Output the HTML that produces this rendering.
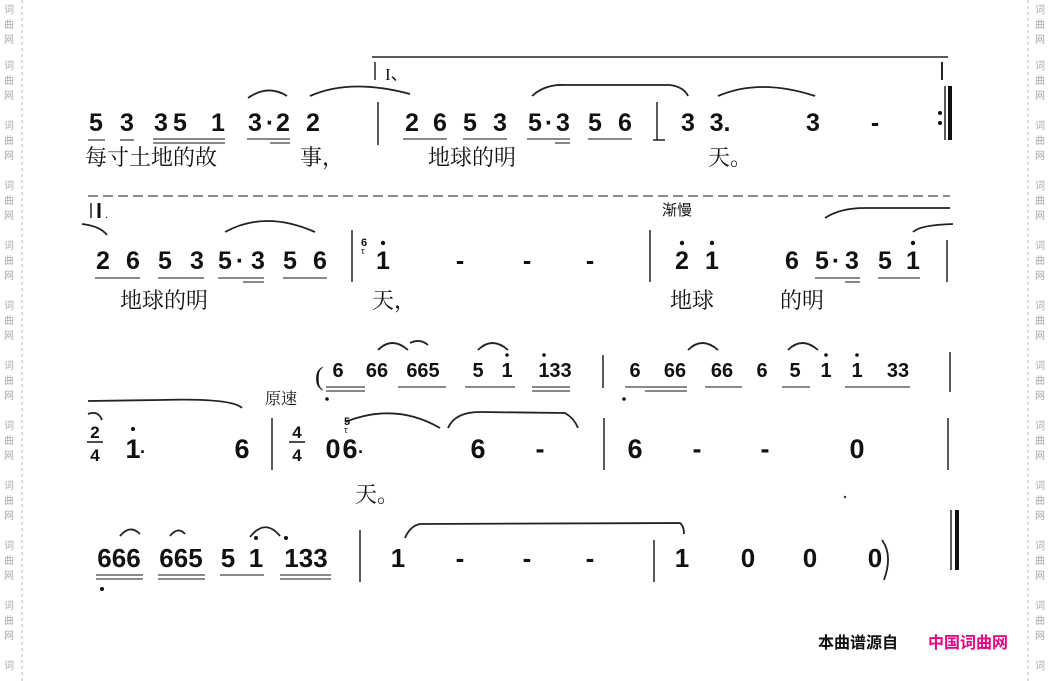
<!DOCTYPE html>
<html><head><meta charset="utf-8"><style>
html,body{margin:0;padding:0;background:#fff;width:1050px;height:681px;overflow:hidden}
svg{display:block}
.n{font-family:"Liberation Sans",sans-serif;font-weight:bold;font-size:25px;fill:#111;text-anchor:middle}
.c{font-family:"Liberation Sans Narrow","Liberation Sans",sans-serif;font-weight:bold;fill:#111;text-anchor:middle}
.l{font-family:"Liberation Serif","Noto Serif CJK SC",serif;font-size:22px;fill:#111}
.w{font-family:"Liberation Sans","Noto Sans CJK SC",sans-serif;font-size:10px;fill:#aaa;text-anchor:middle}
.t{stroke:#222;stroke-width:1.8;fill:none}
.u{stroke:#444;stroke-width:1.3}
.b{stroke:#222;stroke-width:1.5}
</style></head><body>
<svg width="1050" height="681" viewBox="0 0 1050 681" xmlns="http://www.w3.org/2000/svg">
<line x1="22" y1="0" x2="22" y2="681" stroke="#bbb" stroke-dasharray="3,3"/>
<line x1="1028" y1="0" x2="1028" y2="681" stroke="#bbb" stroke-dasharray="3,3"/>
<g id="wm">
<text class="w" x="9" y="13">词</text><text class="w" x="9" y="28">曲</text><text class="w" x="9" y="43">网</text>
<text class="w" x="9" y="69">词</text><text class="w" x="9" y="84">曲</text><text class="w" x="9" y="99">网</text>
<text class="w" x="9" y="129">词</text><text class="w" x="9" y="144">曲</text><text class="w" x="9" y="159">网</text>
<text class="w" x="9" y="189">词</text><text class="w" x="9" y="204">曲</text><text class="w" x="9" y="219">网</text>
<text class="w" x="9" y="249">词</text><text class="w" x="9" y="264">曲</text><text class="w" x="9" y="279">网</text>
<text class="w" x="9" y="309">词</text><text class="w" x="9" y="324">曲</text><text class="w" x="9" y="339">网</text>
<text class="w" x="9" y="369">词</text><text class="w" x="9" y="384">曲</text><text class="w" x="9" y="399">网</text>
<text class="w" x="9" y="429">词</text><text class="w" x="9" y="444">曲</text><text class="w" x="9" y="459">网</text>
<text class="w" x="9" y="489">词</text><text class="w" x="9" y="504">曲</text><text class="w" x="9" y="519">网</text>
<text class="w" x="9" y="549">词</text><text class="w" x="9" y="564">曲</text><text class="w" x="9" y="579">网</text>
<text class="w" x="9" y="609">词</text><text class="w" x="9" y="624">曲</text><text class="w" x="9" y="639">网</text>
<text class="w" x="9" y="669">词</text>
</g>
<use href="#wm" x="1031"/>

<!-- Row 1 -->
<line x1="372" y1="57" x2="948" y2="57" stroke="#222" stroke-width="1.5"/>
<line x1="375" y1="62" x2="375" y2="80" class="b"/>
<text x="385" y="80" font-family="Liberation Serif" font-size="17" fill="#111">I、</text>
<line x1="942" y1="62" x2="942" y2="80" stroke="#222" stroke-width="2"/>
<path class="t" d="M248 98 Q268 84 287 96"/>
<path class="t" d="M310 96 Q350 78 410 94"/>
<path class="t" d="M532 96 Q545 84 565 85 L670 85 Q684 87 688 96"/>
<path class="t" d="M718 96 Q760 78 815 96"/>
<g class="n">
<text x="96" y="131">5</text><text x="127" y="131">3</text><text x="161" y="131">3</text><text x="180" y="131">5</text><text x="218" y="131">1</text><text x="255" y="131">3</text><text x="270" y="131">·</text><text x="283" y="131">2</text><text x="313" y="131">2</text>
<text x="412" y="131">2</text><text x="440" y="131">6</text><text x="470" y="131">5</text><text x="500" y="131">3</text><text x="535" y="131">5</text><text x="549" y="131">·</text><text x="563" y="131">3</text><text x="595" y="131">5</text><text x="625" y="131">6</text>
<text x="688" y="131">3</text><text x="720" y="131">3.</text><text x="813" y="131">3</text><text x="875" y="131">-</text>
</g>
<g class="u">
<line x1="88" y1="140" x2="105" y2="140"/><line x1="120" y1="140" x2="134" y2="140"/>
<line x1="153" y1="139" x2="225" y2="139"/><line x1="153" y1="143" x2="225" y2="143"/>
<line x1="247" y1="139" x2="290" y2="139"/><line x1="270" y1="143" x2="290" y2="143"/>
<line x1="403" y1="139" x2="447" y2="139"/><line x1="463" y1="139" x2="507" y2="139"/>
<line x1="527" y1="139" x2="570" y2="139"/><line x1="555" y1="143" x2="570" y2="143"/>
<line x1="588" y1="139" x2="632" y2="139"/>
</g>
<line x1="378" y1="102" x2="378" y2="145" class="b"/>
<line x1="657" y1="102" x2="657" y2="140" class="b"/><line x1="653" y1="140" x2="665" y2="140" class="b"/>
<circle cx="940" cy="113" r="2" fill="#111"/><circle cx="940" cy="123" r="2" fill="#111"/>
<line x1="945" y1="86" x2="945" y2="140" class="b"/>
<line x1="950" y1="86" x2="950" y2="140" stroke="#111" stroke-width="4"/>
<g class="l">
<text x="85" y="165">每寸土地的故</text><text x="300" y="165">事，</text>
<text x="428" y="165">地球的明</text><text x="708" y="165">天。</text>
</g>
<line x1="88" y1="196" x2="950" y2="196" stroke="#666" stroke-width="1.5" stroke-dasharray="10,5"/>

<!-- Row 2 -->
<line x1="91" y1="203" x2="91" y2="218" class="b"/>
<line x1="99" y1="203" x2="99" y2="218" stroke="#111" stroke-width="3"/>
<text x="105" y="218" font-size="12" fill="#111">.</text>
<text x="662" y="215" font-family="Liberation Sans,Noto Sans CJK SC,sans-serif" font-size="15" fill="#111">渐慢</text>
<path class="t" d="M82 224 Q100 226 107 235"/>
<path class="t" d="M225 232 Q265 210 315 232"/>
<path class="t" d="M825 218 Q840 208 865 208 L950 208"/>
<path class="t" d="M913 232 Q920 225 953 224"/>
<g class="n">
<text x="103" y="269">2</text><text x="133" y="269">6</text><text x="165" y="269">5</text><text x="197" y="269">3</text><text x="225" y="269">5</text><text x="240" y="269">·</text><text x="258" y="269">3</text><text x="290" y="269">5</text><text x="320" y="269">6</text>
<text x="383" y="269">1</text><text x="460" y="269">-</text><text x="527" y="269">-</text><text x="590" y="269">-</text>
<text x="682" y="269">2</text><text x="712" y="269">1</text><text x="792" y="269">6</text><text x="822" y="269">5</text><text x="836" y="269">·</text><text x="852" y="269">3</text><text x="885" y="269">5</text><text x="913" y="269">1</text>
</g>
<g fill="#111"><circle cx="383" cy="243" r="2.2"/><circle cx="682" cy="243" r="2.2"/><circle cx="712" cy="243" r="2.2"/><circle cx="913" cy="243" r="2.2"/></g>
<text x="361" y="246" font-family="Liberation Sans" font-size="11" font-weight="bold" fill="#111">6</text>
<text x="361" y="254" font-family="Liberation Sans" font-size="9" fill="#111">τ</text>
<g class="u">
<line x1="95" y1="278" x2="140" y2="278"/><line x1="158" y1="278" x2="204" y2="278"/>
<line x1="218" y1="278" x2="264" y2="278"/><line x1="243" y1="282" x2="264" y2="282"/>
<line x1="283" y1="278" x2="327" y2="278"/>
<line x1="815" y1="278" x2="860" y2="278"/><line x1="845" y1="282" x2="860" y2="282"/><line x1="878" y1="278" x2="920" y2="278"/>
</g>
<line x1="352" y1="230" x2="352" y2="282" class="b"/>
<line x1="650" y1="230" x2="650" y2="282" class="b"/>
<line x1="947" y1="240" x2="947" y2="282" class="b"/>
<g class="l">
<text x="120" y="308">地球的明</text><text x="372" y="308">天，</text>
<text x="670" y="308">地球</text><text x="780" y="308">的明</text>
</g>

<!-- Row 3 small -->
<path class="t" d="M378 350 Q392 336 408 350"/><path class="t" d="M478 350 Q492 336 508 350"/>
<path class="t" d="M410 343 Q420 338 428 345"/>
<path class="t" d="M688 350 Q702 336 718 350"/><path class="t" d="M788 350 Q802 336 818 350"/>
<text x="315" y="385" font-family="Liberation Serif" font-size="26" fill="#111">(</text>
<g class="c" font-size="20">
<text x="338" y="377">6</text><text x="377" y="377">66</text><text x="423" y="377">665</text><text x="478" y="377">5</text><text x="507" y="377">1</text><text x="555" y="377">133</text>
<text x="635" y="377">6</text><text x="675" y="377">66</text><text x="722" y="377">66</text><text x="762" y="377">6</text><text x="795" y="377">5</text><text x="826" y="377">1</text><text x="857" y="377">1</text><text x="898" y="377">33</text>
</g>
<g fill="#111"><circle cx="507" cy="355" r="1.8"/><circle cx="544" cy="355" r="1.8"/><circle cx="826" cy="355" r="1.8"/><circle cx="857" cy="355" r="1.8"/><circle cx="327" cy="399" r="1.8"/><circle cx="624" cy="399" r="1.8"/></g>
<g class="u">
<line x1="326" y1="387" x2="365" y2="387"/><line x1="326" y1="391" x2="365" y2="391"/>
<line x1="398" y1="387" x2="446" y2="387"/><line x1="465" y1="387" x2="515" y2="387"/><line x1="532" y1="387" x2="570" y2="387"/><line x1="532" y1="391" x2="570" y2="391"/>
<line x1="625" y1="387" x2="687" y2="387"/><line x1="645" y1="391" x2="687" y2="391"/>
<line x1="705" y1="387" x2="742" y2="387"/><line x1="782" y1="387" x2="810" y2="387"/><line x1="845" y1="387" x2="910" y2="387"/>
</g>
<line x1="603" y1="355" x2="603" y2="388" class="b"/>
<line x1="950" y1="352" x2="950" y2="392" class="b"/>

<!-- Row 3 main -->
<path class="t" d="M88 401 L160 400 Q232 398 242 408"/>
<text x="265" y="404" font-family="Liberation Serif,Noto Serif CJK SC,serif" font-size="16" fill="#111">原速</text>
<path class="t" d="M88 414 Q98 410 102 420"/>
<path class="t" d="M345 422 Q395 402 440 428"/>
<path class="t" d="M448 428 Q455 412 480 412 L565 413 Q574 418 578 428"/>
<g class="c" font-size="27">
<text x="133" y="458">1</text><text x="143" y="458" font-size="18">·</text>
<text x="242" y="458">6</text>
<text x="333" y="458">0</text><text x="350" y="458">6</text><text x="361" y="458" font-size="18">·</text>
<text x="478" y="458">6</text><text x="540" y="458">-</text>
<text x="635" y="458">6</text><text x="697" y="458">-</text><text x="765" y="458">-</text><text x="857" y="458">0</text>
</g>
<circle cx="133" cy="429" r="2" fill="#111"/>
<g class="c" font-size="17">
<text x="95" y="438">2</text><text x="95" y="461">4</text>
<text x="297" y="438">4</text><text x="297" y="461">4</text>
</g>
<line x1="87" y1="442" x2="103" y2="442" stroke="#111" stroke-width="1.5"/>
<line x1="289" y1="442" x2="305" y2="442" stroke="#111" stroke-width="1.5"/>
<text x="344" y="425" font-family="Liberation Sans" font-size="11" font-weight="bold" fill="#111">5</text>
<text x="344" y="433" font-family="Liberation Sans" font-size="9" fill="#111">τ</text>
<line x1="272" y1="418" x2="272" y2="470" class="b"/>
<line x1="604" y1="418" x2="604" y2="470" class="b"/>
<line x1="948" y1="418" x2="948" y2="470" class="b"/>
<text class="l" x="355" y="502">天。</text>
<circle cx="845" cy="497" r="1.2" fill="#333"/>

<!-- Row 4 -->
<path class="t" d="M120 536 Q130 524 140 534"/><path class="t" d="M170 536 Q178 526 185 534"/>
<path class="t" d="M250 537 Q265 518 280 536"/>
<path class="t" d="M405 538 Q410 526 420 524 L680 523 Q684 526 684 534"/>
<g class="c" font-size="26">
<text x="119" y="567">666</text><text x="181" y="567">665</text><text x="228" y="567">5</text><text x="256" y="567">1</text><text x="306" y="567">133</text>
<text x="398" y="567">1</text><text x="460" y="567">-</text><text x="527" y="567">-</text><text x="590" y="567">-</text>
<text x="682" y="567">1</text><text x="748" y="567">0</text><text x="810" y="567">0</text><text x="875" y="567">0</text>
</g>
<path class="t" d="M882 540 Q893 555 884 580"/>
<g fill="#111"><circle cx="256" cy="538" r="2"/><circle cx="286" cy="538" r="2"/><circle cx="102" cy="589" r="2"/></g>
<g class="u">
<line x1="96" y1="575" x2="143" y2="575"/><line x1="96" y1="579" x2="143" y2="579"/>
<line x1="158" y1="575" x2="205" y2="575"/><line x1="158" y1="579" x2="205" y2="579"/>
<line x1="220" y1="575" x2="264" y2="575"/>
<line x1="280" y1="575" x2="331" y2="575"/><line x1="280" y1="579" x2="331" y2="579"/>
</g>
<line x1="360" y1="530" x2="360" y2="582" class="b"/>
<line x1="654" y1="540" x2="654" y2="582" class="b"/>
<line x1="951" y1="510" x2="951" y2="570" class="b"/>
<line x1="957" y1="510" x2="957" y2="570" stroke="#111" stroke-width="4"/>

<!-- Footer -->
<text x="818" y="648" font-family="Liberation Sans,Noto Sans CJK SC,sans-serif" font-size="16" font-weight="bold" fill="#111">本曲谱源自</text>
<text x="928" y="648" font-family="Liberation Sans,Noto Sans CJK SC,sans-serif" font-size="16" font-weight="bold" fill="#e4007f">中国词曲网</text>
</svg>
</body></html>
